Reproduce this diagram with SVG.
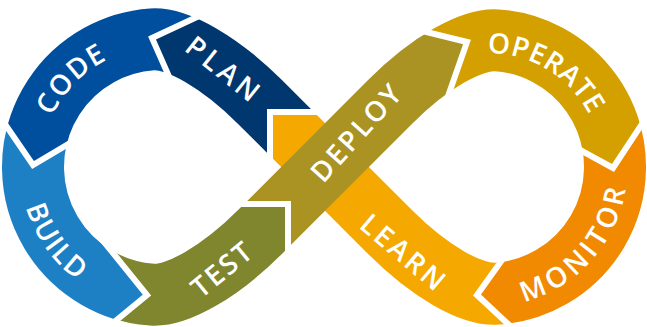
<svg xmlns="http://www.w3.org/2000/svg" width="647" height="327" viewBox="0 0 647 327">
<style>
.band{fill:none;stroke-width:62;stroke-linecap:butt}
.sep{fill:none;stroke:#fff;stroke-width:6;stroke-linejoin:miter;stroke-miterlimit:10}
.lbl{fill:#fff;font-family:"Open Sans","Liberation Sans",sans-serif;font-weight:600;font-size:28px}
</style>
<defs>
<clipPath id="c-plan"><polygon points="326,112 270,112 270,168 176,92.4 152,38 219.5,6.5 330,-10"/></clipPath>
<clipPath id="c-code"><polygon points="219.5,6.5 152,38 176,92.4 92.2,129.8 33,165 -6,108 -30,100 -30,-30 225,-30"/></clipPath>
<clipPath id="c-build"><polygon points="-6,108 33,165 92.2,129.8 87,221 147,295 96,337 -30,345 -30,100"/></clipPath>
<clipPath id="c-test"><polygon points="96,337 147,295 87,221 232,204 288,204 288,262 300,345 96,345"/></clipPath>
<clipPath id="c-deploy"><polygon points="232,204 288,204 288,262 446,102 467,42 398.4,25.2"/></clipPath>
<clipPath id="c-operate"><polygon points="398.4,25.2 467,42 446,102 560.2,139.2 613,168 650.8,110.6 680,100 680,-30 390,-30"/></clipPath>
<clipPath id="c-monitor"><polygon points="650.8,110.6 613,168 560.2,139.2 509,250.2 477,295 519,334.2 680,345 680,100"/></clipPath>
<clipPath id="c-learn"><polygon points="519,334.2 477,295 509,250.2 326,112 270,112 270,168 300,300"/></clipPath>
<path id="tp-code" d="M41,168.26 A120,120 0 0 1 159.74,47"/>
<path id="tp-build" d="M21.97,143.5 A141,141 0 0 0 137.5,306.03"/>
<path id="tp-operate" d="M460.81,56.31 A114,114 0 0 1 598.69,139.81"/>
<path id="tp-monitor" d="M497.12,306.2 A139.5,139.5 0 0 0 627.2,157.88"/>
</defs>
<rect width="647" height="327" fill="#fff"/>
<g id="plan">
<path class="band" stroke="#00376F" clip-path="url(#c-plan)" d="M305,147 L260,102 C220.6,62.6 177.4,37.5 152.07,39.31 A128,128 0 0 0 117.22,46.72"/>
<text class="lbl" transform="translate(224.5,70) rotate(38.7)" y="10" text-anchor="middle" letter-spacing="4.2">PLAN</text>
</g>
<g id="learn">
<path class="band" stroke="#F5A800" clip-path="url(#c-learn)" d="M531.44,286.34 A127,127 0 0 1 496.86,293.69 C471.5,295.5 429.4,271.4 390,232 L255,97"/>
<text class="lbl" transform="translate(404,253) rotate(40.3)" y="10" text-anchor="middle" letter-spacing="2.9">LEARN</text>
</g>
<g id="sep-learn-plan"><polyline class="sep" points="326,112 270,112 270,168"/></g>
<g id="code">
<path class="band" stroke="#004F9E" clip-path="url(#c-code)" d="M260,102 C220.6,62.6 177.4,37.5 152.07,39.31 A128,128 0 0 0 40.72,210.78"/>
<text class="lbl" letter-spacing="1.4"><textPath href="#tp-code" startOffset="50%" text-anchor="middle">CODE</textPath></text>
</g>
<g id="build">
<path class="band" stroke="#1E80C4" clip-path="url(#c-build)" d="M45.0,112.9 A128,128 0 0 0 152.07,294.69 C177.4,296.5 220.6,271.4 260,232"/>
<text class="lbl" letter-spacing="1.8"><textPath href="#tp-build" startOffset="50%" text-anchor="middle">BUILD</textPath></text>
</g>
<g id="test">
<path class="band" stroke="#7F862D" clip-path="url(#c-test)" d="M87.58,271.85 A128,128 0 0 0 152.07,294.69 C177.4,296.5 220.6,271.4 260,232 L305,187"/>
<text class="lbl" transform="translate(222.2,269) rotate(-39.2)" y="10" text-anchor="middle" letter-spacing="2.1">TEST</text>
</g>
<g id="deploy">
<path class="band" stroke="#AA9322" clip-path="url(#c-deploy)" d="M255,237 L390,102 C429.4,62.6 471.5,38.5 496.86,40.31"/>
<text class="lbl" transform="translate(356.7,132.2) rotate(-48)" y="10" text-anchor="middle" letter-spacing="2.5">DEPLOY</text>
</g>
<g id="operate">
<path class="band" stroke="#D4A000" clip-path="url(#c-operate)" d="M390,102 C429.4,62.6 471.5,38.5 496.86,40.31 A127,127 0 0 1 610.67,199.87"/>
<text class="lbl" letter-spacing="0.4"><textPath href="#tp-operate" startOffset="50%" text-anchor="middle">OPERATE</textPath></text>
</g>
<g id="monitor">
<path class="band" stroke="#F18A00" clip-path="url(#c-monitor)" d="M603.1,113.3 A127,127 0 0 1 496.86,293.69 C471.5,295.5 429.4,271.4 390,232"/>
<text class="lbl" letter-spacing="4.3"><textPath href="#tp-monitor" startOffset="50%" text-anchor="middle">MONITOR</textPath></text>
</g>
<g id="connectors">
<polyline class="sep" points="219.5,6.5 152,38 176,92.4"/>
<polyline class="sep" points="-6,108 33,165 92.2,129.8"/>
<polyline class="sep" points="96,337 147,295 87,221"/>
<polyline class="sep" points="232,204 288,204 288,262"/>
<polyline class="sep" points="398.4,25.2 467,42 446,102"/>
<polyline class="sep" points="650.8,110.6 613,168 560.2,139.2"/>
<polyline class="sep" points="519,334.2 477,295 509,250.2"/>
</g>
</svg>
